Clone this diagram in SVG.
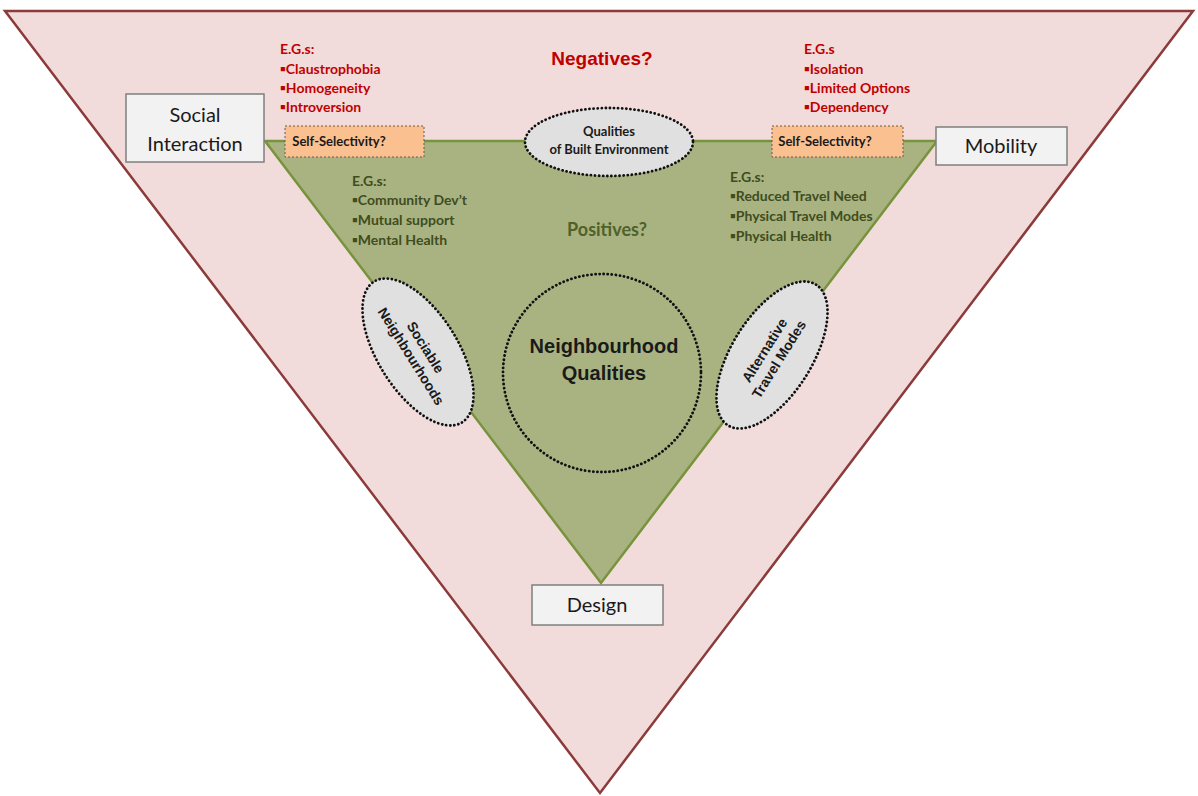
<svg xmlns="http://www.w3.org/2000/svg" width="1198" height="796" viewBox="0 0 1198 796">
<style>
.box{fill:#f2f2f2;stroke:#7f7f7f;stroke-width:1.5}
.sel{fill:#fac090;stroke:#6b5a4a;stroke-width:1;stroke-dasharray:2,2}
.dot{fill:#e0e0e0;stroke:#111;stroke-width:2.8;stroke-dasharray:0.1,4;stroke-linecap:round}
.lab{font-family:Lato,"Liberation Sans",sans-serif;fill:#1a1a1a;text-anchor:middle}
.neg{font-family:Lato,"Liberation Sans",sans-serif;font-weight:bold;font-size:14px;fill:#c00000}
.pos{font-family:Lato,"Liberation Sans",sans-serif;font-weight:bold;font-size:14px;fill:#3f4d1f}
.ar{font-family:"Liberation Sans",Arial,sans-serif;font-weight:bold;fill:#1a1a1a;text-anchor:middle}
</style>
<g id="outer"><polygon points="5,11 1193,11 600,793" fill="#f2dcdb" stroke="#8c3a3a" stroke-width="2.5" stroke-linejoin="miter"/></g>
<g id="inner"><polygon points="265,141 937,141 601,583" fill="#a9b381" stroke="#77933c" stroke-width="2.5"/></g>
<g id="connectors"></g>
<g id="negatives"><text x="602" y="65" font-family="'Liberation Sans',Arial,sans-serif" font-weight="bold" font-size="19" fill="#c00000" text-anchor="middle">Negatives?</text></g>
<g id="neg-left">
<text class="neg" x="280" y="54">E.G.s:</text>
<text class="neg" x="280" y="74">▪Claustrophobia</text>
<text class="neg" x="280" y="93">▪Homogeneity</text>
<text class="neg" x="280" y="112">▪Introversion</text>
</g>
<g id="neg-right">
<text class="neg" x="804" y="54">E.G.s</text>
<text class="neg" x="804" y="74">▪Isolation</text>
<text class="neg" x="804" y="93">▪Limited Options</text>
<text class="neg" x="804" y="112">▪Dependency</text>
</g>
<g id="pos-left">
<text class="pos" x="352" y="186">E.G.s:</text>
<text class="pos" x="352" y="205">▪Community Dev’t</text>
<text class="pos" x="352" y="225">▪Mutual support</text>
<text class="pos" x="352" y="245">▪Mental Health</text>
</g>
<g id="pos-right">
<text class="pos" x="730" y="182">E.G.s:</text>
<text class="pos" x="730" y="201">▪Reduced Travel Need</text>
<text class="pos" x="730" y="221">▪Physical Travel Modes</text>
<text class="pos" x="730" y="241">▪Physical Health</text>
</g>
<g id="positives"><text x="607" y="236" font-family="Lato,'Liberation Sans',sans-serif" font-weight="bold" font-size="18" fill="#4f6228" text-anchor="middle">Positives?</text></g>
<g id="social-interaction">
<rect class="box" x="126" y="94" width="138" height="68"/>
<text class="lab" x="195" y="122" font-size="20">Social</text>
<text class="lab" x="195" y="151" font-size="20">Interaction</text>
</g>
<g id="mobility">
<rect class="box" x="936" y="127" width="131" height="38"/>
<text class="lab" x="1001" y="153" font-size="20">Mobility</text>
</g>
<g id="design">
<rect class="box" x="532" y="585" width="131" height="40"/>
<text class="lab" x="597" y="612" font-size="20">Design</text>
</g>
<g id="self-sel-left">
<rect class="sel" x="285" y="126" width="139" height="31"/>
<text class="lab" x="339" y="146" font-size="13" font-weight="bold">Self-Selectivity?</text>
</g>
<g id="self-sel-right">
<rect class="sel" x="772" y="126" width="131" height="31"/>
<text class="lab" x="825" y="146" font-size="13" font-weight="bold">Self-Selectivity?</text>
</g>
<g id="built-env">
<ellipse class="dot" cx="609" cy="142" rx="84" ry="34"/>
<text class="lab" x="609" y="136" font-size="13" font-weight="bold">Qualities</text>
<text class="lab" x="609" y="154" font-size="13" font-weight="bold">of Built Environment</text>
</g>
<g id="sociable">
<ellipse class="dot" cx="418" cy="352" rx="83" ry="40" transform="rotate(58 418 352)"/>
<g transform="translate(418 352) rotate(58)">
<text class="ar" x="0" y="-4" font-size="14">Sociable</text>
<text class="ar" x="0" y="13" font-size="14">Neighbourhoods</text>
</g>
</g>
<g id="alternative">
<ellipse class="dot" cx="772" cy="355" rx="83" ry="40" transform="rotate(-58 772 355)"/>
<g transform="translate(772 355) rotate(-58)">
<text class="ar" x="0" y="-4" font-size="14">Alternative</text>
<text class="ar" x="0" y="13" font-size="14">Travel Modes</text>
</g>
</g>
<g id="neighbourhood-qualities">
<circle cx="602" cy="373" r="99" fill="none" stroke="#111" stroke-width="2.8" stroke-dasharray="0.1,4" stroke-linecap="round"/>
<text class="ar" x="604" y="353" font-size="20">Neighbourhood</text>
<text class="ar" x="604" y="380" font-size="20">Qualities</text>
</g>
</svg>
